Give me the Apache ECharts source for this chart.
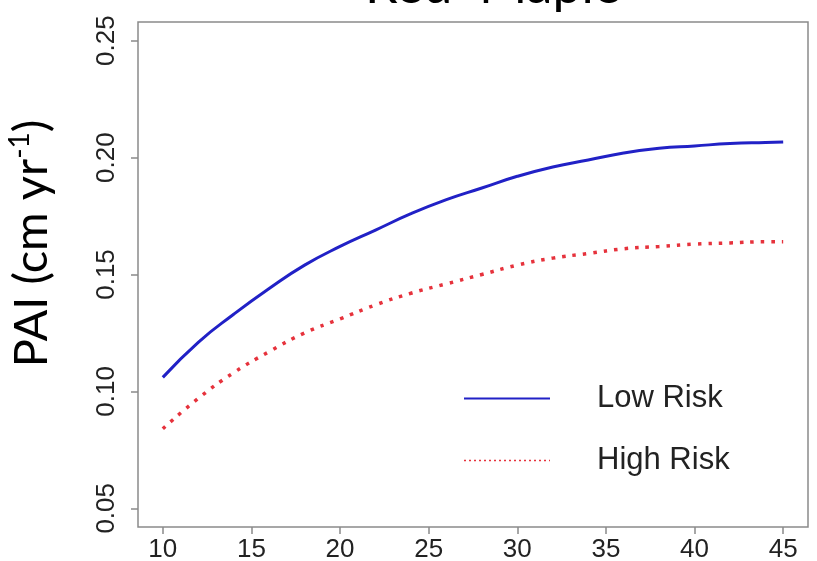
<!DOCTYPE html>
<html>
<head>
<meta charset="utf-8">
<title>Red Maple</title>
<script src="https://cdn.jsdelivr.net/npm/echarts@6/dist/echarts.min.js"></script>
<style>
	html,body{margin:0;padding:0;background:#fff;}
	#main{width:817px;height:561px;}
</style>
</head>
<body>
<div id="main"></div>
<script>
var ages = [10, 12, 14, 16, 18, 20, 22, 24, 26, 28, 30, 32, 34, 36, 38, 40, 42, 44, 45];
var lowRisk = [0.106, 0.121, 0.133, 0.144, 0.154, 0.162, 0.169, 0.176, 0.182, 0.187, 0.192, 0.196, 0.199, 0.202, 0.204, 0.205, 0.206, 0.2065, 0.2067];
var highRisk = [0.084, 0.097, 0.108, 0.117, 0.125, 0.131, 0.137, 0.142, 0.146, 0.150, 0.154, 0.157, 0.159, 0.161, 0.162, 0.163, 0.1635, 0.164, 0.164];
var xTicks = [10, 15, 20, 25, 30, 35, 40, 45];
var yTicks = [0.05, 0.10, 0.15, 0.20, 0.25];

function toPairs(xs, ys){
	var out = [];
	xs.forEach(function(x, i){
		out.push([x, ys[i]]);
	});
	return out;
}

var myChart = echarts.init(document.getElementById('main'));
var option = {
	animation: false,
	title: {
		text: 'Red  Maple',
		left: 360,
		top: -45,
		textStyle: {
			fontFamily: 'Lato',
			fontWeight: 'normal',
			fontSize: 52,
			color: '#000'
		}
	},
	grid: {
		left: 138,
		right: 9,
		top: 22,
		bottom: 34,
		outerBoundsMode: 'none',
		show: true,
		borderColor: '#8a8a8a',
		borderWidth: 1.5
	},
	legend: {
		left: 458,
		top: 378,
		orient: 'vertical',
		itemWidth: 86,
		itemHeight: 30,
		itemGap: 31,
		textStyle: {
			fontFamily: 'Liberation Sans',
			fontSize: 31,
			lineHeight: 30,
			color: '#222',
			padding: [0, 0, 0, 42]
		},
		data: [
			{name: 'Low Risk', itemStyle: {opacity: 0}, lineStyle: {color: '#2121c6', width: 2}},
			{name: 'High Risk', itemStyle: {opacity: 0}, lineStyle: {color: '#e6323c', width: 1.5, type: [2, 3]}}
		]
	},
	xAxis: {
		type: 'value',
		min: 8.6,
		max: 46.4,
		axisLine: {show: false},
		splitLine: {show: false},
		axisTick: {
			show: true,
			length: 7,
			customValues: xTicks,
			lineStyle: {color: '#8a8a8a', width: 1.5}
		},
		axisLabel: {
			customValues: xTicks,
			margin: 10,
			fontFamily: 'Liberation Sans',
			fontSize: 26,
			color: '#222'
		}
	},
	yAxis: {
		type: 'value',
		min: 0.042,
		max: 0.258,
		axisLine: {show: false},
		splitLine: {show: false},
		axisTick: {
			show: true,
			length: 7,
			customValues: yTicks,
			lineStyle: {color: '#8a8a8a', width: 1.5}
		},
		axisLabel: {
			customValues: yTicks,
			rotate: 90,
			margin: 18,
			fontFamily: 'Liberation Sans',
			fontSize: 26,
			color: '#222',
			formatter: function(v){ return v.toFixed(2); }
		},
		name: '{a|PAI (cm yr}{s|-1}{a|)}',
		nameLocation: 'middle',
		nameGap: 80,
		nameRotate: 90,
		nameTextStyle: {
			padding: [0, 0, 0, 62],
			rich: {
				a: {fontFamily: 'Lato', fontSize: 47, color: '#000', lineHeight: 52},
				s: {fontFamily: 'Lato', fontSize: 28, color: '#000', verticalAlign: 'top', lineHeight: 52, padding: [0, 0, 16, 0]}
			}
		}
	},
	series: [
		{
			name: 'Low Risk',
			type: 'line',
			smooth: true,
			symbol: 'none',
			data: toPairs(ages, lowRisk),
			lineStyle: {color: '#2121c6', width: 3},
			itemStyle: {color: '#2121c6'}
		},
		{
			name: 'High Risk',
			type: 'line',
			smooth: true,
			symbol: 'none',
			data: toPairs(ages, highRisk),
			lineStyle: {color: '#e6323c', width: 3.5, type: [3.5, 7]},
			itemStyle: {color: '#e6323c'}
		}
	]
};
myChart.setOption(option);
</script>
</body>
</html>
